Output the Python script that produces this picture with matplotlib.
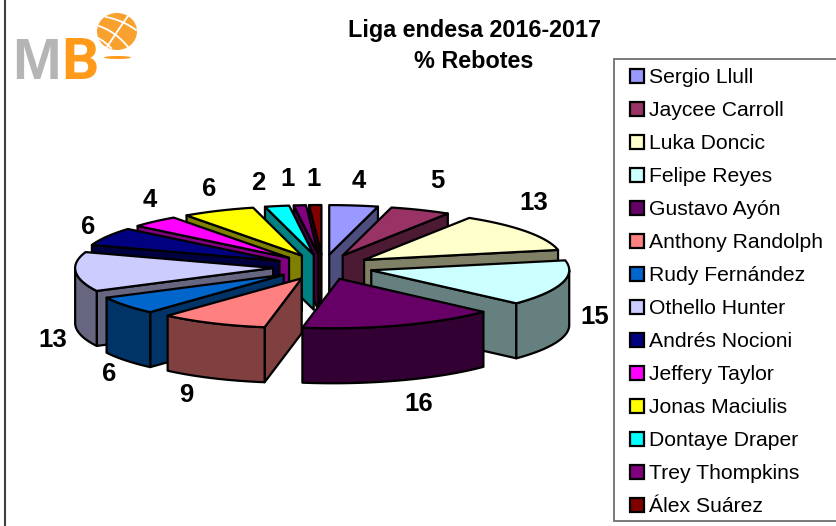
import numpy as np
import matplotlib
matplotlib.use("Agg")
import matplotlib.pyplot as plt
from matplotlib.patches import Polygon, Patch, Rectangle, Ellipse

plt.rcParams["font.family"] = ["Liberation Sans", "DejaVu Sans"]

# Datos
players = ["Sergio Llull", "Jaycee Carroll", "Luka Doncic", "Felipe Reyes",
           "Gustavo Ayón", "Anthony Randolph", "Rudy Fernández", "Othello Hunter",
           "Andrés Nocioni", "Jeffery Taylor", "Jonas Maciulis", "Dontaye Draper",
           "Trey Thompkins", "Álex Suárez"]
rebounds = [4, 5, 13, 15, 16, 9, 6, 13, 6, 4, 6, 2, 1, 1]
top_colors = ["#9999FF", "#993366", "#FFFFCC", "#CCFFFF", "#660066", "#FF8080", "#0066CC",
              "#CCCCFF", "#000080", "#FF00FF", "#FFFF00", "#00FFFF", "#800080", "#800000"]
side_colors = ["#4D4D80", "#4D1A33", "#808066", "#668080", "#330033", "#804040", "#003366",
               "#666680", "#000040", "#800080", "#808000", "#008080", "#400040", "#400000"]

# Geometria de la tarta (pixeles)
cx, cy = 323, 267
radius = 198
squash = 0.25
explode = 50
depth = 55
shear = 0.00176  # la perspectiva tuerce un poco la parte de delante
outline = 1.6

# Posicion de las etiquetas
label_xy = [(359, 181), (437, 181), (534, 203), (595, 317), (419, 404), (186, 395), (109, 374),
            (53, 340), (88, 227), (150, 200), (209, 189), (258, 183), (288, 179), (314, 179)]

fig = plt.figure(figsize=(8.36, 5.26), dpi=100)
ax = fig.add_axes([0, 0, 1, 1])
ax.set_xlim(0, 836)
ax.set_ylim(526, 0)
ax.axis("off")


def project(ang, r, x0, y0):
    x = x0 + r * np.sin(ang)
    y = y0 - r * np.cos(ang) * squash
    return x - shear * np.maximum(y - cy, 0) ** 2, y


total = sum(rebounds)
edges = np.cumsum([0] + rebounds) / total * 2 * np.pi
mids = (edges[:-1] + edges[1:]) / 2

# De atras hacia delante
for i in sorted(range(len(rebounds)), key=lambda k: -np.cos(mids[k])):
    a1, a2 = edges[i], edges[i + 1]
    x0, y0 = project(mids[i], explode, cx, cy)
    ang = np.linspace(a1, a2, 60)
    xs, ys = project(ang, radius, x0, y0)

    # paredes rectas
    for a, side in ((a1, np.sin(a1) < 0), (a2, np.sin(a2) > 0)):
        if side:
            xe, ye = project(a, radius, x0, y0)
            wall = [(x0, y0), (xe, ye), (xe, ye + depth), (x0, y0 + depth)]
            ax.add_patch(Polygon(wall, fc=side_colors[i], ec="black", lw=outline, joinstyle="round"))

    # pared exterior, solo la parte de delante
    front = np.linspace(max(a1, np.pi / 2), min(a2, 3 * np.pi / 2), 60)
    if front[0] < front[-1]:
        fx, fy = project(front, radius, x0, y0)
        pts = list(zip(fx, fy)) + list(zip(fx[::-1], fy[::-1] + depth))
        ax.add_patch(Polygon(pts, fc=side_colors[i], ec="black", lw=outline, joinstyle="round"))

    # cara superior
    top = [(x0, y0)] + list(zip(xs, ys))
    ax.add_patch(Polygon(top, fc=top_colors[i], ec="black", lw=outline, joinstyle="round"))

for (lx, ly), val in zip(label_xy, rebounds):
    ax.text(lx, ly, str(val), fontsize=18.5, fontweight="bold", ha="center", va="center")

# Titulo
ax.text(474, 31, "Liga endesa 2016-2017", fontsize=16.8, fontweight="bold", ha="center", va="center")
ax.text(474, 61, "% Rebotes", fontsize=16.8, fontweight="bold", ha="center", va="center")

# Logo
ax.text(12, 79, "M", fontsize=42, fontweight="bold", color="#B5B5B5", va="baseline", ha="left")
ax.text(61, 79, "B", fontsize=42, fontweight="bold", family="Roboto", color="#FF9A1A",
        va="baseline", ha="left")
ax.add_patch(Ellipse((117, 31.5), 40, 37, fc="#F9A12E", ec="none"))
for (x1, y1), (xm, ym), (x2, y2) in [((106, 17), (122, 20), (136, 30)),
                                     ((99, 26), (116, 32), (128, 47)),
                                     ((128, 16), (118, 30), (107, 47)),
                                     ((98, 38), (104, 41), (111, 48))]:
    t = np.linspace(0, 1, 20)
    ax.plot((1 - t) ** 2 * x1 + 2 * t * (1 - t) * xm + t ** 2 * x2,
            (1 - t) ** 2 * y1 + 2 * t * (1 - t) * ym + t ** 2 * y2, color="white", lw=1.3)
ax.add_patch(Ellipse((117.5, 57.5), 27, 3, fc="#FF9A1A", ec="none"))

# Borde del grafico
ax.plot([5, 5], [0, 526], color="#404040", lw=1.5)

# Leyenda
ax.add_patch(Rectangle((613.5, 59), 300, 461.5, fc="white", ec="#707070", lw=1.3, zorder=4))
handles = [Patch(fc=c, ec="black", lw=1.6, label=p) for c, p in zip(top_colors, players)]
leg = ax.legend(handles=handles, loc="upper left", bbox_to_anchor=(630 / 836, 1 - 68 / 526),
                fontsize=15.2, frameon=False, handlelength=0.65, handleheight=0.65,
                handletextpad=0.23, labelspacing=0.664, borderpad=0, borderaxespad=0)
leg.set_zorder(5)

fig.savefig("out.png", dpi=100)
